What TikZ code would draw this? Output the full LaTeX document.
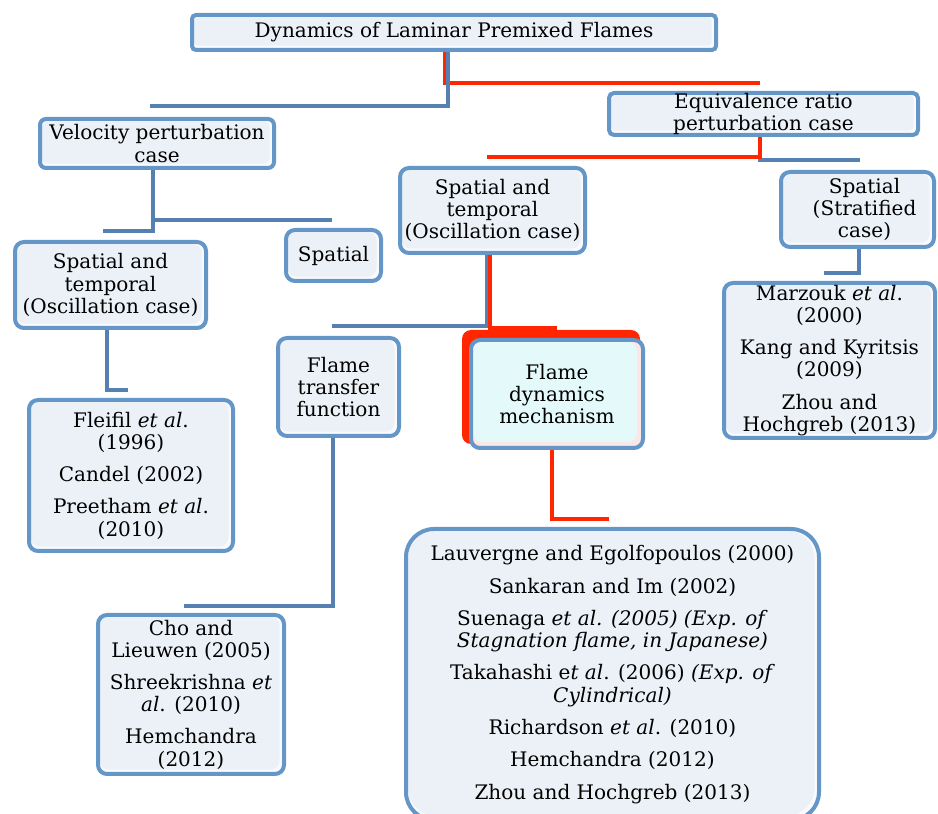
\documentclass[tikz,border=0pt]{standalone}
\usepackage{fontspec}
\setmainfont{DejaVu Serif}
\usetikzlibrary{calc}

\definecolor{boxblue}{RGB}{100,150,200}
\definecolor{linkblue}{RGB}{84,128,178}
\definecolor{linkred}{RGB}{255,38,0}
\definecolor{boxfill}{RGB}{236,241,247}
\definecolor{boxedge}{RGB}{248,250,253}
\definecolor{fdmcyan}{RGB}{228,250,250}
\definecolor{fdmpink}{RGB}{252,230,230}

\newcommand{\boxfont}{\fontsize{11.4}{12.6}\selectfont}
\def\pxu{0.02cm}

\begin{document}
\begin{tikzpicture}[x=0.02cm,y=-0.02cm,
        box/.style={draw=boxblue,line width=4*\pxu,rounded corners=9*\pxu,fill=boxedge,
            inner sep=0pt,align=center,font=\boxfont,
            path picture={\fill[boxfill] ([shift={(1pt,-1pt)}]path picture bounding box.north west)
                rectangle ([shift={(-2.5pt,2.5pt)}]path picture bounding box.south east);}},
        fdmbox/.style={box,fill=fdmpink,
            path picture={\fill[fdmcyan] ([shift={(1pt,-1pt)}]path picture bounding box.north west)
                rectangle ([shift={(-3.5pt,3.5pt)}]path picture bounding box.south east);}},
        bluelink/.style={draw=linkblue,line width=4*\pxu},
        redlink/.style={draw=linkred,line width=4.5*\pxu}]
        \useasboundingbox (0,0) rectangle (938,814);
        \def\gap{5.8pt} % space between references

        % Boxes
        \node[box,rounded corners=4*\pxu,minimum width=524*\pxu,minimum height=35*\pxu] (title) at (454,32.5)
            {Dynamics of Laminar Premixed Flames};
        \node[box,rounded corners=5*\pxu,minimum width=309*\pxu,minimum height=42*\pxu] (equiv) at (763.5,114)
            {Equivalence ratio\\perturbation case};
        \node[box,rounded corners=6*\pxu,minimum width=234*\pxu,minimum height=49*\pxu] (velo) at (157,143.5)
            {Velocity perturbation\\case};
        \node[box,minimum width=185*\pxu,minimum height=85*\pxu] (midst) at (492.5,210.5)
            {Spatial and\\temporal\\(Oscillation case)};
        \node[box,minimum width=153*\pxu,minimum height=75*\pxu] (strat) at (857.5,209.5)
            {\hspace*{8pt}Spatial\\\hspace*{8pt}(Stratified\\\hspace*{8pt}case)};
        \node[box,minimum width=191*\pxu,minimum height=86*\pxu] (leftst) at (110.5,285)
            {Spatial and\\temporal\\(Oscillation case)};
        \node[box,minimum width=95*\pxu,minimum height=51*\pxu] (spatial) at (333.5,255.5)
            {Spatial};
        \node[box,minimum width=121*\pxu,minimum height=98*\pxu] (ftf) at (338.5,387)
            {Flame\\transfer\\function};

        % red shadow behind the mechanism box
        \fill[linkred,rounded corners=9*\pxu] (462,330) rectangle (640,444);
        \node[fdmbox,minimum width=172*\pxu,minimum height=108*\pxu] (fdm) at (557,394)
            {Flame\\dynamics\\mechanism};

        \node[box,minimum width=211*\pxu,minimum height=155*\pxu] (marz) at (829.5,360.5)
            {Marzouk \textit{et al}.\\(2000)\\[\gap]Kang and Kyritsis\\(2009)\\[\gap]Zhou and\\Hochgreb (2013)};
        \node[box,minimum width=204*\pxu,minimum height=151*\pxu] (fleifil) at (131,475.5)
            {Fleifil \textit{et al}.\\(1996)\\[\gap]Candel (2002)\\[\gap]Preetham \textit{et al}.\\(2010)};
        \node[box,minimum width=186*\pxu,minimum height=159*\pxu] (cho) at (191,694.5)
            {Cho and\\Lieuwen (2005)\\[\gap]Shreekrishna \textit{et}\\\textit{al}. (2010)\\[\gap]Hemchandra\\(2012)};
        \node[box,rounded corners=28*\pxu,minimum width=413*\pxu,minimum height=291*\pxu] (lauv) at (612.5,674.5)
            {Lauvergne and Egolfopoulos (2000)\\[\gap]Sankaran and Im (2002)\\[\gap]
             Suenaga \textit{et al. (2005) (Exp. of}\\\textit{Stagnation flame, in Japanese)}\\[\gap]
             Takahashi e\textit{t al}. (2006) \textit{(Exp. of}\\\textit{Cylindrical)}\\[\gap]
             Richardson \textit{et al}. (2010)\\[\gap]Hemchandra (2012)\\[\gap]Zhou and Hochgreb (2013)};

        % Free ends of the connectors
        \coordinate (c-equiv) at (760,83);
        \coordinate (c-velo) at (150,106);
        \coordinate (c-midst) at (487,157);
        \coordinate (c-strat) at (860,160);
        \coordinate (c-leftst) at (103,231);
        \coordinate (c-spatial) at (332,220);
        \coordinate (c-fleifil) at (128,390);
        \coordinate (c-ftf) at (332,326);
        \coordinate (c-fdm) at (557,328);
        \coordinate (c-cho) at (184,606);
        \coordinate (c-lauv) at (609,519);
        \coordinate (c-marz) at (824,273);

        % Connectors
        \draw[redlink] ($(title.south)+(-9,0)$) |- (c-equiv);
        \draw[bluelink] ($(title.south)+(-6,0)$) |- (c-velo);
        \draw[bluelink] ($(equiv.south)+(-3.5,0)$) |- (c-strat);
        \draw[redlink] ($(equiv.south)+(-3.5,0)$) |- (c-midst);
        \draw[bluelink] ($(velo.south)+(-4,0)$) |- (c-leftst);
        \draw[bluelink] ($(velo.south)+(-4,0)$) |- (c-spatial);
        \draw[bluelink] ($(leftst.south)+(-4,0)$) |- (c-fleifil);
        \draw[bluelink] ($(midst.south)+(-6,0)$) |- (c-ftf);
        \draw[redlink] ($(midst.south)+(-2.5,0)$) |- (c-fdm);
        \draw[bluelink] ($(ftf.south)+(-5.5,0)$) |- (c-cho);
        \draw[redlink] ($(fdm.south)+(-5,0)$) |- (c-lauv);
        \draw[bluelink] ($(strat.south)+(1.5,0)$) |- (c-marz);
\end{tikzpicture}
\end{document}
